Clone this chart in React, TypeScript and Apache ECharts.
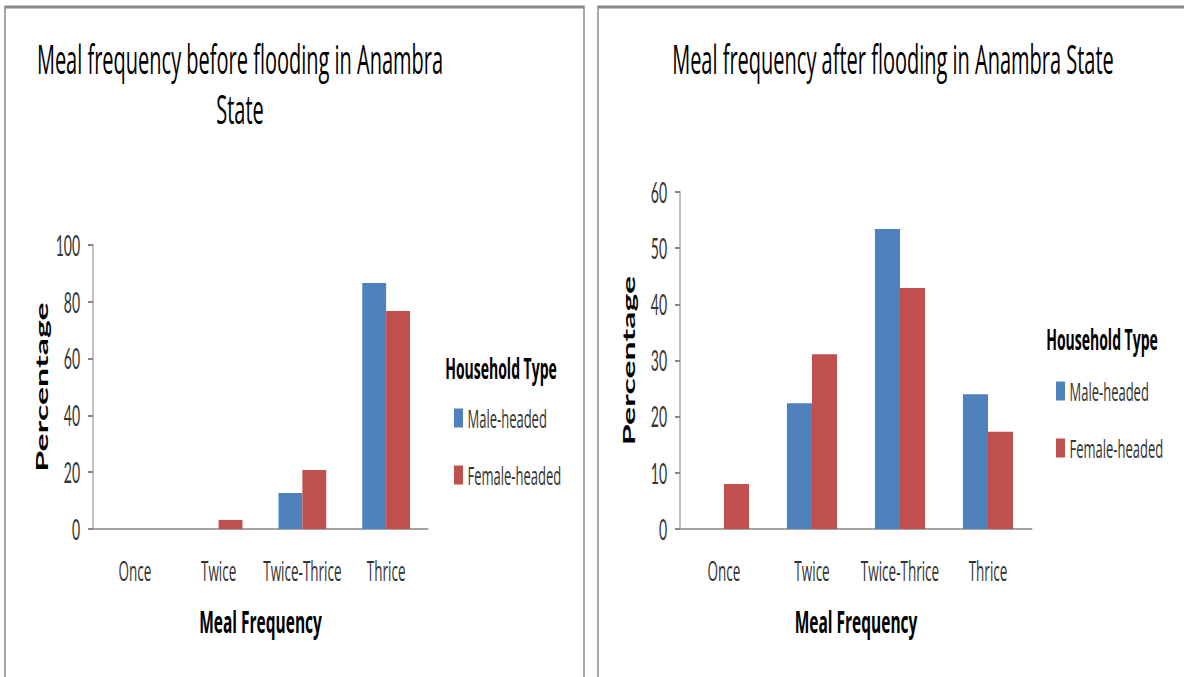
import React, { useEffect, useRef } from "react";
import * as echarts from "echarts";

const categories = ["Once", "Twice", "Twice-Thrice", "Thrice"];
const seriesNames = ["Male-headed", "Female-headed"];
const beforeMale = [0, 0, 12.7, 86.6];
const beforeFemale = [0, 3.2, 20.8, 76.8];
const afterMale = [0, 22.4, 53.4, 24.0];
const afterFemale = [8.0, 31.1, 42.9, 17.3];
const titleBefore = "Meal frequency before flooding in Anambra\nState";
const titleAfter = "Meal frequency after flooding in Anambra State";
const legendTitle = "Household Type";
const xName = "Meal Frequency";
const yName = "Percentage";

const BLUE = "#4F81BD";
const RED = "#C0504D";
const FONT = "'Open Sans'";
const DIGITS = "Lato";
// horizontal squash of the whole picture
const S = 0.5;
const W = 1184 / S;
const X = (v: number) => v / S;

export default function App() {
  const ref = useRef<HTMLDivElement>(null);
  useEffect(() => {
    if (!ref.current) return;
    const chart = echarts.init(ref.current, undefined, { renderer: "svg" });
    const axisLineStyle = { color: "#868686", width: 2 };
    const mkY = (gridIndex: number, max: number, interval: number) => ({
      type: "value",
      gridIndex,
      min: 0,
      max,
      interval,
      name: yName,
      nameLocation: "middle",
      nameGap: 86,
      nameTextStyle: { fontFamily: "Lato", fontWeight: "bold", fontSize: 34, color: "#000" },
      axisLine: { show: true, lineStyle: axisLineStyle },
      axisTick: { show: true, length: 10, lineStyle: axisLineStyle },
      splitLine: { show: false },
      axisLabel: { fontFamily: DIGITS, fontSize: 28, color: "#333", margin: 26 },
    });
    const mkX = (gridIndex: number) => ({
      type: "category",
      gridIndex,
      data: categories,
      name: xName,
      nameLocation: "middle",
      nameGap: 76,
      nameTextStyle: { fontFamily: FONT, fontWeight: "bold", fontSize: 31, color: "#000" },
      axisLine: { show: true, lineStyle: { color: "#868686", width: 1.5 } },
      axisTick: { show: false },
      axisLabel: { fontFamily: FONT, fontSize: 27, color: "#333", margin: 28, interval: 0 },
    });
    const mkBar = (name: string, data: number[], color: string, idx: number) => ({
      type: "bar",
      name,
      data,
      xAxisIndex: idx,
      yAxisIndex: idx,
      barGap: "0%",
      barCategoryGap: "43%",
      itemStyle: { color },
      legendHoverLink: false,
    });
    const legendCommon = {
      orient: "vertical",
      padding: 0,
      itemWidth: X(9),
      itemHeight: 19,
      itemGap: 31,
      icon: "rect",
      textStyle: { fontFamily: FONT, fontSize: 26, color: "#333", lineHeight: 19, padding: [0, 0, 0, 4] },
      data: seriesNames,
    };
    const titleStyle = { fontFamily: FONT, fontSize: 40, fontWeight: "normal", color: "#000", lineHeight: 50 };
    const legendTitleStyle = { fontFamily: FONT, fontSize: 28, fontWeight: "bold", color: "#000", lineHeight: 30 };
    chart.setOption({
      animation: false,
      backgroundColor: "#fff",
      title: [
        { text: titleBefore, left: X(240), top: 33, textAlign: "center", padding: 0, textStyle: titleStyle },
        { text: titleAfter, left: X(893), top: 33, textAlign: "center", padding: 0, textStyle: titleStyle },
        { text: legendTitle, left: X(501), top: 353, textAlign: "center", padding: 0, textStyle: legendTitleStyle },
        { text: legendTitle, left: X(1102), top: 324, textAlign: "center", padding: 0, textStyle: legendTitleStyle },
      ],
      legend: [
        { ...legendCommon, left: X(454), top: 405 },
        { ...legendCommon, left: X(1056), top: 378 },
      ],
      grid: [
        { left: X(93), top: 245, width: X(335), height: 284 },
        { left: X(680), top: 192, width: X(352), height: 337 },
      ],
      xAxis: [mkX(0), mkX(1)],
      yAxis: [mkY(0, 100, 20), mkY(1, 60, 10)],
      series: [
        mkBar(seriesNames[0], beforeMale, BLUE, 0),
        mkBar(seriesNames[1], beforeFemale, RED, 0),
        mkBar(seriesNames[0], afterMale, BLUE, 1),
        mkBar(seriesNames[1], afterFemale, RED, 1),
      ],
      graphic: [
        {
          type: "rect",
          shape: { x: X(5), y: 7, width: X(579), height: 720 },
          style: { fill: "none", stroke: "#8a8a8a", lineWidth: 3 },
          silent: true,
        },
        {
          type: "rect",
          shape: { x: X(598), y: 7, width: X(620), height: 720 },
          style: { fill: "none", stroke: "#8a8a8a", lineWidth: 3 },
          silent: true,
        },
      ],
    });
    return () => chart.dispose();
  }, []);
  return (
    <div
      ref={ref}
      style={{
        position: "fixed",
        left: 0,
        top: 0,
        width: W + "px",
        height: "677px",
        transform: `scaleX(${S})`,
        transformOrigin: "0 0",
      }}
    />
  );
}
